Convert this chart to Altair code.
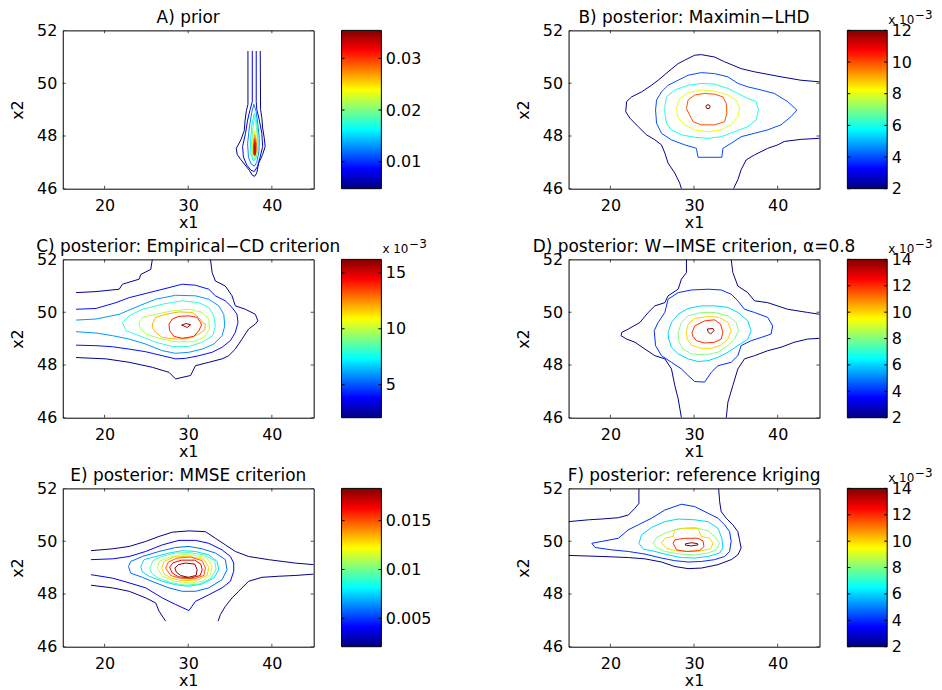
import altair as alt
import pandas as pd

FONT = "DejaVu Sans"
X_DOMAIN = [15, 45]
Y_DOMAIN = [46, 52]
X_TICKS = [20, 30, 40]
Y_TICKS = [46, 48, 50, 52]
JET = ["#000080", "#0000ff", "#00ffff", "#ffff00", "#ff0000", "#800000"]
JET_POS = [0, 0.125, 0.375, 0.625, 0.875, 1.0]

TITLES = {
    "A": "A) prior",
    "B": "B) posterior: Maximin\u2212LHD",
    "C": "C) posterior: Empirical\u2212CD criterion",
    "D": "D) posterior: W\u2212IMSE criterion, \u03b1=0.8",
    "E": "E) posterior: MMSE criterion",
    "F": "F) posterior: reference kriging",
}
CBAR_RANGE = {
    "A": [0.0048, 0.0354],
    "B": [2, 12],
    "C": [2.05, 16.2],
    "D": [2, 14],
    "E": [0.0021, 0.0183],
    "F": [2, 14],
}
CBAR_TICKS = {
    "A": [0.01, 0.02, 0.03],
    "B": [2, 4, 6, 8, 10, 12],
    "C": [5, 10, 15],
    "D": [2, 4, 6, 8, 10, 12, 14],
    "E": [0.005, 0.01, 0.015],
    "F": [2, 4, 6, 8, 10, 12, 14],
}
CBAR_MULT = {"A": "", "B": "x 10", "C": "x 10", "D": "x 10", "E": "", "F": "x 10"}
CBAR_EXP = {"A": "", "B": "\u22123", "C": "\u22123", "D": "\u22123", "E": "", "F": "\u22123"}

# contour lines: (level, closed, [(x1, x2), ...])
A_CONTOURS = [
    (0.005, False, [(37.14, 51.22), (37.14, 49.2), (36.95, 48.95), (36.8, 48.6), (36.7, 48.2), (36.3, 47.85), (35.75, 47.53), (35.85, 47.3), (36.3, 47.1), (36.8, 46.9), (37.3, 46.7), (37.7, 46.5), (37.95, 46.47), (38.2, 46.6), (38.4, 46.95), (38.9, 47.3), (39.2, 47.6), (39.1, 47.9), (38.9, 48.3), (38.8, 48.7), (38.65, 49.0), (38.61, 51.22)]),
    (0.008, False, [(37.66, 51.22), (37.66, 49.3), (37.4, 49.0), (37.1, 48.6), (36.85, 48.1), (36.5, 47.6), (36.6, 47.2), (37.0, 46.9), (37.5, 46.7), (37.9, 46.65), (38.3, 46.85), (38.6, 47.2), (38.9, 47.6), (38.8, 48.1), (38.5, 48.6), (38.2, 49.0), (38.13, 49.3), (38.13, 51.22)]),
    (0.0125, True, [(37.85, 49.2), (37.6, 48.9), (37.3, 48.3), (37.1, 47.7), (37.2, 47.2), (37.5, 46.95), (37.9, 46.85), (38.2, 47.0), (38.45, 47.4), (38.5, 47.9), (38.3, 48.5), (38.1, 48.95)]),
    (0.016, True, [(37.9, 48.85), (37.6, 48.4), (37.45, 47.8), (37.5, 47.3), (37.8, 47.05), (38.1, 47.15), (38.35, 47.6), (38.3, 48.2), (38.1, 48.7)]),
    (0.0195, True, [(37.9, 48.7), (37.7, 48.2), (37.6, 47.6), (37.75, 47.2), (38.0, 47.1), (38.25, 47.4), (38.25, 48.0), (38.1, 48.5)]),
    (0.023, True, [(37.92, 48.2), (37.72, 47.8), (37.7, 47.4), (37.9, 47.2), (38.1, 47.3), (38.2, 47.7), (38.1, 48.05)]),
    (0.027, True, [(37.95, 48.05), (37.78, 47.7), (37.78, 47.35), (37.95, 47.25), (38.12, 47.4), (38.15, 47.8)]),
    (0.031, True, [(37.95, 47.9), (37.82, 47.6), (37.85, 47.3), (37.97, 47.25), (38.08, 47.4), (38.1, 47.7)]),
    (0.034, True, [(37.97, 47.75), (37.9, 47.5), (37.97, 47.3), (38.03, 47.5)]),
]

B_CONTOURS = [
    (2.1, False, [(45, 50.05), (42.78, 50.11), (40.40, 50.24), (37.22, 50.43), (35.63, 50.55), (34.64, 50.68), (33.65, 50.81), (32.46, 50.99), (30.87, 51.08), (30.08, 51.06), (28.89, 50.87), (28.10, 50.74), (26.90, 50.43), (25.71, 50.11), (24.92, 49.92), (23.73, 49.67), (22.54, 49.48), (21.94, 49.30), (21.83, 48.92), (22.34, 48.67), (23.33, 48.35), (24.33, 48.04), (25.32, 47.85), (26.11, 47.66), (26.51, 47.35), (26.90, 46.97), (27.70, 46.59), (28.29, 46.21), (28.49, 46.00)]),
    (2.1, False, [(34.72, 46.00), (35.24, 46.34), (35.63, 46.72), (36.23, 47.09), (37.22, 47.28), (38.81, 47.53), (40.00, 47.66), (40.79, 47.79), (42.78, 47.87), (45, 47.91)]),
    (4, True, [(25.40, 48.98), (25.52, 49.36), (26.11, 49.67), (26.90, 49.92), (28.10, 50.11), (29.29, 50.30), (30.87, 50.40), (32.46, 50.36), (34.05, 50.24), (35.24, 49.99), (36.43, 49.86), (38.02, 49.74), (39.60, 49.61), (41.19, 49.30), (42.30, 48.98), (41.59, 48.73), (40.40, 48.42), (38.81, 48.23), (37.22, 48.10), (35.63, 47.97), (34.44, 47.72), (33.45, 47.53), (33.33, 47.19), (30.48, 47.19), (30.28, 47.53), (28.89, 47.66), (27.30, 47.85), (26.11, 48.10), (25.52, 48.48)]),
    (6, True, [(26.51, 49.11), (26.71, 49.48), (27.70, 49.74), (29.29, 49.92), (30.87, 49.99), (32.46, 49.96), (34.05, 49.80), (35.24, 49.61), (36.43, 49.42), (37.42, 49.30), (37.70, 48.98), (37.42, 48.60), (36.43, 48.35), (34.84, 48.16), (33.25, 47.97), (31.67, 47.91), (30.08, 47.95), (28.49, 48.04), (27.30, 48.23), (26.71, 48.48), (26.51, 48.86)]),
    (8, True, [(27.90, 49.04), (28.29, 49.42), (29.29, 49.64), (30.87, 49.74), (32.46, 49.70), (34.05, 49.55), (35.04, 49.36), (35.44, 49.04), (35.24, 48.73), (34.44, 48.42), (33.25, 48.23), (31.67, 48.16), (30.08, 48.23), (28.89, 48.42), (28.10, 48.67)]),
    (10, True, [(29.09, 49.04), (29.29, 49.36), (30.08, 49.55), (31.27, 49.61), (32.46, 49.58), (33.45, 49.48), (33.85, 49.23), (33.93, 48.86), (33.65, 48.54), (32.46, 48.42), (30.87, 48.42), (29.88, 48.54), (29.48, 48.79)]),
    (12, True, [(31.47, 49.16), (31.67, 49.18), (31.87, 49.16), (31.90, 49.11), (31.87, 49.06), (31.67, 49.03), (31.47, 49.06), (31.43, 49.11)]),
]

C_CONTOURS = [
    (2.2, False, [(16.59, 50.74), (18.97, 50.78), (21.75, 50.87), (22.14, 51.06), (24.13, 51.25), (24.33, 51.43), (25.52, 51.62), (25.71, 52.0)]),
    (2.2, False, [(32.66, 52.0), (32.86, 51.50), (33.25, 51.18), (34.44, 50.99), (35.24, 50.62), (35.63, 50.24), (36.83, 50.11), (38.02, 49.92), (38.33, 49.67), (38.02, 49.55), (37.22, 49.36), (36.43, 48.98), (35.63, 48.60), (34.84, 48.35), (34.05, 48.23), (32.46, 48.10), (30.87, 47.97), (30.28, 47.60), (28.49, 47.47), (27.70, 47.72), (25.71, 47.91), (22.94, 48.10), (20.16, 48.23), (16.59, 48.28)]),
    (4.0, False, [(16.59, 50.11), (18.97, 50.14), (21.35, 50.36), (22.94, 50.55), (25.32, 50.74), (27.70, 50.93), (29.29, 51.06), (30.87, 51.02), (32.46, 50.87), (33.25, 50.62), (34.44, 50.43), (35.24, 50.18), (35.83, 49.92), (35.95, 49.61), (35.63, 49.23), (35.04, 48.92), (34.05, 48.67), (32.86, 48.48), (31.27, 48.35), (29.68, 48.25), (28.49, 48.23), (26.90, 48.35), (24.92, 48.50), (22.94, 48.60), (20.95, 48.69), (18.97, 48.73), (16.59, 48.75)]),
    (5.9, False, [(16.59, 49.70), (18.97, 49.74), (21.75, 49.92), (24.13, 50.24), (26.11, 50.49), (28.49, 50.64), (30.87, 50.62), (32.46, 50.49), (33.65, 50.24), (34.25, 49.92), (34.37, 49.48), (34.05, 49.11), (33.06, 48.79), (31.67, 48.60), (30.08, 48.48), (28.49, 48.44), (26.90, 48.54), (24.92, 48.79), (22.94, 48.98), (20.95, 49.11), (18.97, 49.21), (16.59, 49.26)]),
    (8.0, True, [(22.14, 49.61), (22.94, 49.86), (24.52, 50.11), (26.90, 50.30), (29.29, 50.43), (31.27, 50.36), (32.46, 50.18), (33.06, 49.86), (33.25, 49.48), (32.94, 49.11), (31.67, 48.86), (30.08, 48.70), (28.10, 48.70), (26.11, 48.86), (24.13, 49.11), (22.54, 49.30)]),
    (9.8, True, [(24.13, 49.61), (24.52, 49.80), (26.11, 49.92), (28.10, 50.05), (30.08, 50.11), (31.67, 49.99), (32.46, 49.74), (32.54, 49.36), (31.87, 49.04), (30.48, 48.88), (28.49, 48.88), (26.51, 49.01), (24.92, 49.17), (24.21, 49.42)]),
    (12.0, True, [(25.71, 49.55), (26.11, 49.80), (27.30, 49.92), (28.89, 50.01), (30.48, 49.99), (31.27, 49.80), (31.67, 49.61), (32.06, 49.55), (31.98, 49.33), (31.27, 49.17), (30.08, 49.01), (28.49, 48.98), (26.90, 49.04), (26.11, 49.23), (25.79, 49.36)]),
    (14.0, True, [(27.70, 49.55), (28.10, 49.74), (28.89, 49.84), (30.08, 49.86), (31.07, 49.80), (31.47, 49.61), (31.59, 49.51), (31.27, 49.30), (30.67, 49.08), (29.29, 49.01), (28.29, 49.08), (27.78, 49.30)]),
    (15.8, True, [(29.21, 49.51), (29.76, 49.57), (30.28, 49.52), (29.88, 49.42)]),
]

D_CONTOURS = [
    (2.1, False, [(29.09, 52.0), (29.09, 51.50), (28.49, 51.25), (28.10, 50.87), (26.90, 50.62), (26.51, 50.36), (25.32, 50.24), (24.52, 49.99), (23.53, 49.61), (22.14, 49.36), (21.35, 49.23), (21.27, 49.11), (21.94, 48.98), (22.94, 48.86), (24.13, 48.60), (25.32, 48.35), (26.51, 48.23), (27.30, 47.85), (27.70, 47.22), (28.10, 46.72), (28.49, 46.0)]),
    (2.1, False, [(34.44, 52.0), (34.64, 51.50), (35.24, 50.99), (36.43, 50.74), (37.22, 50.43), (38.81, 50.36), (41.19, 50.11), (43.57, 49.99), (45, 49.92)]),
    (2.1, False, [(45, 49.01), (43.57, 48.98), (41.98, 48.86), (40.40, 48.67), (38.81, 48.54), (37.22, 48.35), (36.03, 48.23), (35.24, 47.85), (34.64, 47.22), (34.05, 46.59), (33.85, 46.0)]),
    (4, True, [(25.24, 49.30), (25.71, 49.61), (26.51, 49.99), (26.90, 50.49), (28.10, 50.74), (29.68, 50.84), (31.67, 50.87), (33.25, 50.84), (34.44, 50.68), (35.24, 50.43), (36.03, 50.11), (37.22, 49.99), (38.81, 49.80), (39.40, 49.48), (39.21, 49.17), (38.02, 49.04), (36.83, 48.92), (35.63, 48.73), (35.24, 48.35), (34.44, 48.10), (32.86, 47.97), (32.06, 47.72), (31.27, 47.35), (30.08, 47.37), (29.29, 47.60), (28.49, 47.85), (27.30, 48.10), (26.11, 48.35), (25.40, 48.73)]),
    (6, True, [(26.90, 49.23), (27.30, 49.61), (28.10, 49.92), (29.29, 50.14), (30.87, 50.24), (32.46, 50.24), (34.05, 50.18), (35.24, 49.99), (36.43, 49.67), (36.83, 49.30), (36.43, 48.98), (35.24, 48.73), (34.05, 48.48), (32.86, 48.29), (31.67, 48.16), (30.48, 48.13), (29.29, 48.23), (28.10, 48.42), (27.30, 48.67), (26.98, 48.98)]),
    (8, True, [(28.10, 49.23), (28.49, 49.61), (29.29, 49.86), (30.87, 49.99), (32.46, 49.99), (34.05, 49.86), (35.04, 49.61), (35.32, 49.30), (34.84, 48.98), (34.05, 48.73), (32.86, 48.48), (31.27, 48.38), (29.68, 48.42), (28.69, 48.60), (28.21, 48.86)]),
    (10, True, [(29.09, 49.23), (29.29, 49.55), (30.08, 49.76), (31.67, 49.84), (33.06, 49.80), (34.05, 49.61), (34.44, 49.30), (34.05, 48.98), (33.25, 48.75), (32.06, 48.63), (30.87, 48.63), (29.68, 48.75), (29.17, 48.98)]),
    (12, True, [(29.76, 49.23), (30.08, 49.48), (31.27, 49.67), (32.46, 49.71), (33.17, 49.55), (33.45, 49.23), (33.25, 48.98), (32.46, 48.86), (31.27, 48.83), (30.28, 48.92), (29.88, 49.08)]),
    (14, True, [(31.59, 49.36), (32.26, 49.38), (32.38, 49.30), (31.98, 49.17), (31.67, 49.26)]),
]

E_CONTOURS = [
    (0.0022, False, [(18.37, 49.64), (20.95, 49.71), (22.94, 49.80), (24.92, 49.99), (26.51, 50.18), (28.10, 50.34), (30.08, 50.39), (32.06, 50.36), (33.25, 50.11), (34.44, 49.86), (35.63, 49.61), (37.22, 49.42), (39.60, 49.30), (42.78, 49.17), (45, 49.11)]),
    (0.0022, False, [(18.37, 48.33), (20.95, 48.23), (22.94, 48.10), (24.92, 47.85), (26.11, 47.66), (26.51, 47.35), (26.90, 47.16), (27.30, 46.97)]),
    (0.0022, False, [(33.57, 46.97), (33.85, 47.22), (34.44, 47.53), (35.24, 47.85), (36.03, 48.10), (37.22, 48.48), (38.81, 48.63), (40.79, 48.67), (42.78, 48.70), (45, 48.75)]),
    (0.0040, False, [(18.37, 49.30), (20.95, 49.33), (22.94, 49.42), (24.92, 49.61), (26.90, 49.86), (28.89, 50.03), (30.87, 50.03), (32.46, 49.92), (34.05, 49.67), (35.04, 49.42), (35.44, 49.17), (35.44, 48.86), (35.04, 48.48), (34.05, 48.23), (32.46, 47.97), (30.87, 47.72), (30.08, 47.37), (28.49, 47.60), (26.90, 47.85), (24.92, 48.23), (22.94, 48.42), (20.95, 48.60), (18.37, 48.73)]),
    (0.0058, True, [(22.86, 49.04), (23.13, 49.23), (24.52, 49.42), (26.51, 49.61), (28.49, 49.76), (30.08, 49.80), (31.67, 49.71), (33.25, 49.55), (34.44, 49.30), (34.64, 48.92), (34.05, 48.54), (32.46, 48.23), (30.87, 48.10), (29.29, 48.10), (27.70, 48.23), (26.11, 48.42), (24.52, 48.63), (23.13, 48.79)]),
    (0.0076, True, [(24.33, 49.04), (24.72, 49.30), (26.11, 49.42), (27.70, 49.55), (29.29, 49.64), (30.87, 49.61), (32.46, 49.48), (33.45, 49.23), (33.65, 48.92), (33.06, 48.60), (31.67, 48.38), (30.08, 48.29), (28.49, 48.35), (26.90, 48.48), (25.32, 48.67), (24.52, 48.83)]),
    (0.0094, True, [(25.40, 48.98), (25.79, 49.26), (26.83, 49.42), (28.49, 49.55), (30.16, 49.57), (31.87, 49.48), (33.17, 49.26), (33.33, 48.92), (32.74, 48.60), (31.35, 48.38), (29.68, 48.33), (28.02, 48.42), (26.43, 48.60), (25.63, 48.78)]),
    (0.0112, True, [(26.31, 48.98), (26.51, 49.23), (27.62, 49.38), (28.89, 49.48), (30.56, 49.48), (32.26, 49.36), (32.86, 49.04), (32.66, 48.73), (31.67, 48.48), (30.08, 48.42), (28.41, 48.48), (26.90, 48.67)]),
    (0.0130, True, [(26.83, 48.98), (27.10, 49.23), (28.29, 49.40), (30.08, 49.43), (31.87, 49.31), (32.46, 49.01), (32.26, 48.70), (31.07, 48.53), (29.29, 48.50), (27.90, 48.60), (27.10, 48.77)]),
    (0.0148, True, [(27.30, 48.98), (27.62, 49.21), (28.69, 49.36), (30.28, 49.40), (31.67, 49.26), (32.06, 48.98), (31.87, 48.70), (30.79, 48.58), (29.21, 48.58), (27.90, 48.70)]),
    (0.0166, True, [(27.78, 49.01), (28.17, 49.18), (29.21, 49.28), (30.79, 49.28), (31.51, 49.13), (31.67, 48.92), (31.43, 48.70), (30.28, 48.60), (28.81, 48.65), (28.10, 48.79)]),
    (0.0182, True, [(28.41, 48.98), (28.81, 49.11), (29.68, 49.17), (30.79, 49.13), (31.07, 48.92), (30.95, 48.70), (30.00, 48.63), (29.09, 48.70), (28.57, 48.83)]),
]

F_CONTOURS = [
    (2.1, False, [(15.0, 50.74), (17.38, 50.81), (18.97, 50.84), (20.95, 50.89), (22.14, 50.99), (22.94, 51.25), (23.41, 51.43), (23.41, 52.0)]),
    (2.1, False, [(32.94, 52.0), (33.06, 51.50), (33.25, 51.12), (33.85, 50.87), (34.64, 50.62), (35.24, 50.36), (35.44, 50.05), (35.63, 49.74), (35.24, 49.48), (34.44, 49.30), (32.86, 49.11), (30.87, 48.98), (29.29, 48.96), (27.70, 49.04), (26.11, 49.21), (24.13, 49.33), (22.14, 49.38), (18.97, 49.42), (15.0, 49.46)]),
    (4, True, [(17.78, 49.92), (18.97, 49.99), (20.95, 50.11), (22.14, 50.43), (23.33, 50.62), (24.92, 50.87), (26.51, 51.18), (28.49, 51.40), (30.08, 51.31), (31.67, 51.06), (32.86, 50.87), (33.65, 50.62), (34.25, 50.36), (34.44, 49.99), (34.25, 49.61), (33.65, 49.42), (32.46, 49.30), (30.87, 49.23), (29.29, 49.21), (27.70, 49.26), (26.11, 49.36), (24.13, 49.51), (22.14, 49.61), (20.16, 49.67), (18.17, 49.76)]),
    (6, True, [(23.41, 49.92), (23.73, 50.24), (24.92, 50.52), (26.51, 50.74), (28.10, 50.84), (30.08, 50.81), (31.67, 50.74), (32.86, 50.49), (33.33, 50.11), (33.45, 49.74), (33.06, 49.55), (31.67, 49.42), (30.08, 49.36), (28.49, 49.38), (26.90, 49.48), (25.32, 49.61), (23.93, 49.70)]),
    (8, True, [(25.12, 49.92), (25.52, 50.14), (26.51, 50.30), (28.10, 50.47), (30.08, 50.52), (31.67, 50.39), (32.46, 50.18), (33.06, 49.92), (32.66, 49.67), (31.67, 49.55), (30.08, 49.48), (28.10, 49.52), (26.51, 49.61), (25.52, 49.76)]),
    (10, True, [(26.11, 49.92), (26.51, 50.11), (27.50, 50.18), (27.70, 50.43), (28.89, 50.49), (30.48, 50.47), (30.87, 50.18), (31.87, 50.11), (32.26, 49.92), (31.98, 49.71), (30.87, 49.64), (29.29, 49.61), (27.70, 49.64), (26.71, 49.74)]),
    (12, True, [(27.50, 49.92), (27.70, 50.05), (28.89, 50.11), (30.48, 50.11), (31.07, 50.01), (31.19, 49.80), (30.67, 49.64), (29.09, 49.61), (27.90, 49.67)]),
    (14, True, [(28.97, 49.90), (29.68, 49.94), (30.40, 49.91), (30.48, 49.86), (29.68, 49.82), (28.97, 49.85)]),
]

CONTOURS = {"A": A_CONTOURS, "B": B_CONTOURS, "C": C_CONTOURS,
            "D": D_CONTOURS, "E": E_CONTOURS, "F": F_CONTOURS}

PLOT_W, PLOT_H = 252, 159
CB_X0, CB_X1 = 280, 320   # colorbar left/right, pixels from the plot's left edge
TICK_LEN = 3


def jet_domain(lo, hi):
    return [lo + p * (hi - lo) for p in JET_POS]


def panel(key):
    rows = []
    for ci, (lvl, closed, pts) in enumerate(CONTOURS[key]):
        seq = list(pts) + ([pts[0]] if closed else [])
        for k, (a, b) in enumerate(seq):
            rows.append({"cid": ci, "level": lvl, "k": k, "x1": a, "x2": b})
    df = pd.DataFrame(rows)
    lo, hi = CBAR_RANGE[key]
    xs = alt.Scale(domain=X_DOMAIN, nice=False, zero=False)
    ys = alt.Scale(domain=Y_DOMAIN, nice=False, zero=False)
    xax = alt.Axis(values=X_TICKS, title="x1", labelPadding=9, titlePadding=1)
    yax = alt.Axis(values=Y_TICKS, title="x2", labelPadding=6, titlePadding=11, orient="left")

    lines = alt.Chart(df).mark_line(strokeWidth=1, clip=True).encode(
        x=alt.X("x1:Q", scale=xs, axis=xax),
        y=alt.Y("x2:Q", scale=ys, axis=yax),
        color=alt.Color("level:Q", legend=None,
                        scale=alt.Scale(domain=jet_domain(lo, hi), range=JET, interpolate="rgb")),
        detail="cid:N",
        order="k:Q",
    )
    bx = pd.DataFrame({"x1": X_TICKS * 2, "x2": [Y_DOMAIN[0]] * 3 + [Y_DOMAIN[1]] * 3})
    by = pd.DataFrame({"x2": Y_TICKS * 2, "x1": [X_DOMAIN[0]] * 4 + [X_DOMAIN[1]] * 4})
    tx = alt.Chart(bx).mark_tick(orient="vertical", size=2 * TICK_LEN, thickness=1,
                                 color="black", clip=True).encode(
        x=alt.X("x1:Q", scale=xs), y=alt.Y("x2:Q", scale=ys, axis=None))
    ty = alt.Chart(by).mark_tick(orient="horizontal", size=2 * TICK_LEN, thickness=1,
                                 color="black", clip=True).encode(
        x=alt.X("x1:Q", scale=xs), y=alt.Y("x2:Q", scale=ys, axis=None))

    # colorbar
    grad = alt.LinearGradient(
        gradient="linear", x1=0, y1=1, x2=0, y2=0,
        stops=[alt.GradientStop(offset=p, color=c) for p, c in zip(JET_POS, JET)],
    )
    cys = alt.Scale(domain=[lo, hi], nice=False, zero=False)
    cax = alt.Axis(orient="right", values=CBAR_TICKS[key], format="~g", title=None,
                   labelPadding=4, offset=CB_X1 - PLOT_W)
    cb = alt.Chart(pd.DataFrame({"lo": [lo], "hi": [hi]})).mark_rect(
        fill=grad, stroke="black", strokeWidth=1).encode(
        y=alt.Y("lo:Q", scale=cys, axis=cax), y2="hi:Q",
        x=alt.value(CB_X0), x2=alt.value(CB_X1))
    tdf = pd.DataFrame({"v": CBAR_TICKS[key]})
    cbl = alt.Chart(tdf).mark_rule(color="black", strokeWidth=1).encode(
        y=alt.Y("v:Q", scale=cys, axis=None),
        x=alt.value(CB_X0), x2=alt.value(CB_X0 + TICK_LEN))
    cbr = alt.Chart(tdf).mark_rule(color="black", strokeWidth=1).encode(
        y=alt.Y("v:Q", scale=cys, axis=None),
        x=alt.value(CB_X1 - TICK_LEN), x2=alt.value(CB_X1))

    title = alt.Chart(pd.DataFrame({"t": [TITLES[key]]})).mark_text(
        align="center", baseline="alphabetic", fontSize=17, font=FONT, color="black").encode(
        x=alt.value(PLOT_W / 2), y=alt.value(-7), text="t:N")

    layers = [lines, tx, ty, cb, cbl, cbr, title]
    if CBAR_MULT[key]:
        m = alt.Chart(pd.DataFrame({"t": [CBAR_MULT[key]]})).mark_text(
            align="left", baseline="alphabetic", fontSize=12, font=FONT, color="black").encode(
            x=alt.value(CB_X1 + 1), y=alt.value(-6), text="t:N")
        e = alt.Chart(pd.DataFrame({"t": [CBAR_EXP[key]]})).mark_text(
            align="left", baseline="alphabetic", fontSize=12, font=FONT, color="black").encode(
            x=alt.value(CB_X1 + 28), y=alt.value(-11), text="t:N")
        layers += [m, e]

    return alt.layer(*layers).resolve_scale(y="independent", color="independent").properties(
        width=PLOT_W, height=PLOT_H,
    )


chart = alt.concat(
    *[panel(k) for k in ["A", "B", "C", "D", "E", "F"]],
    columns=2,
    spacing=alt.RowColnumber(row=71, column=256),
    bounds="flush",
).resolve_scale(
    color="independent", x="independent", y="independent"
).properties(
    padding={"left": 1, "top": -1, "right": 0, "bottom": 0},
    autosize=alt.AutoSizeParams(type="pad"),
).configure_view(
    stroke="black", strokeWidth=1
).configure_axis(
    domain=False, ticks=False, tickSize=0, grid=False,
    labelFont=FONT, labelFontSize=16, labelColor="black",
    titleFont=FONT, titleFontSize=16, titleFontWeight="normal", titleColor="black",
)

chart.save("out.html", embed_options={"renderer": "svg", "actions": False})
